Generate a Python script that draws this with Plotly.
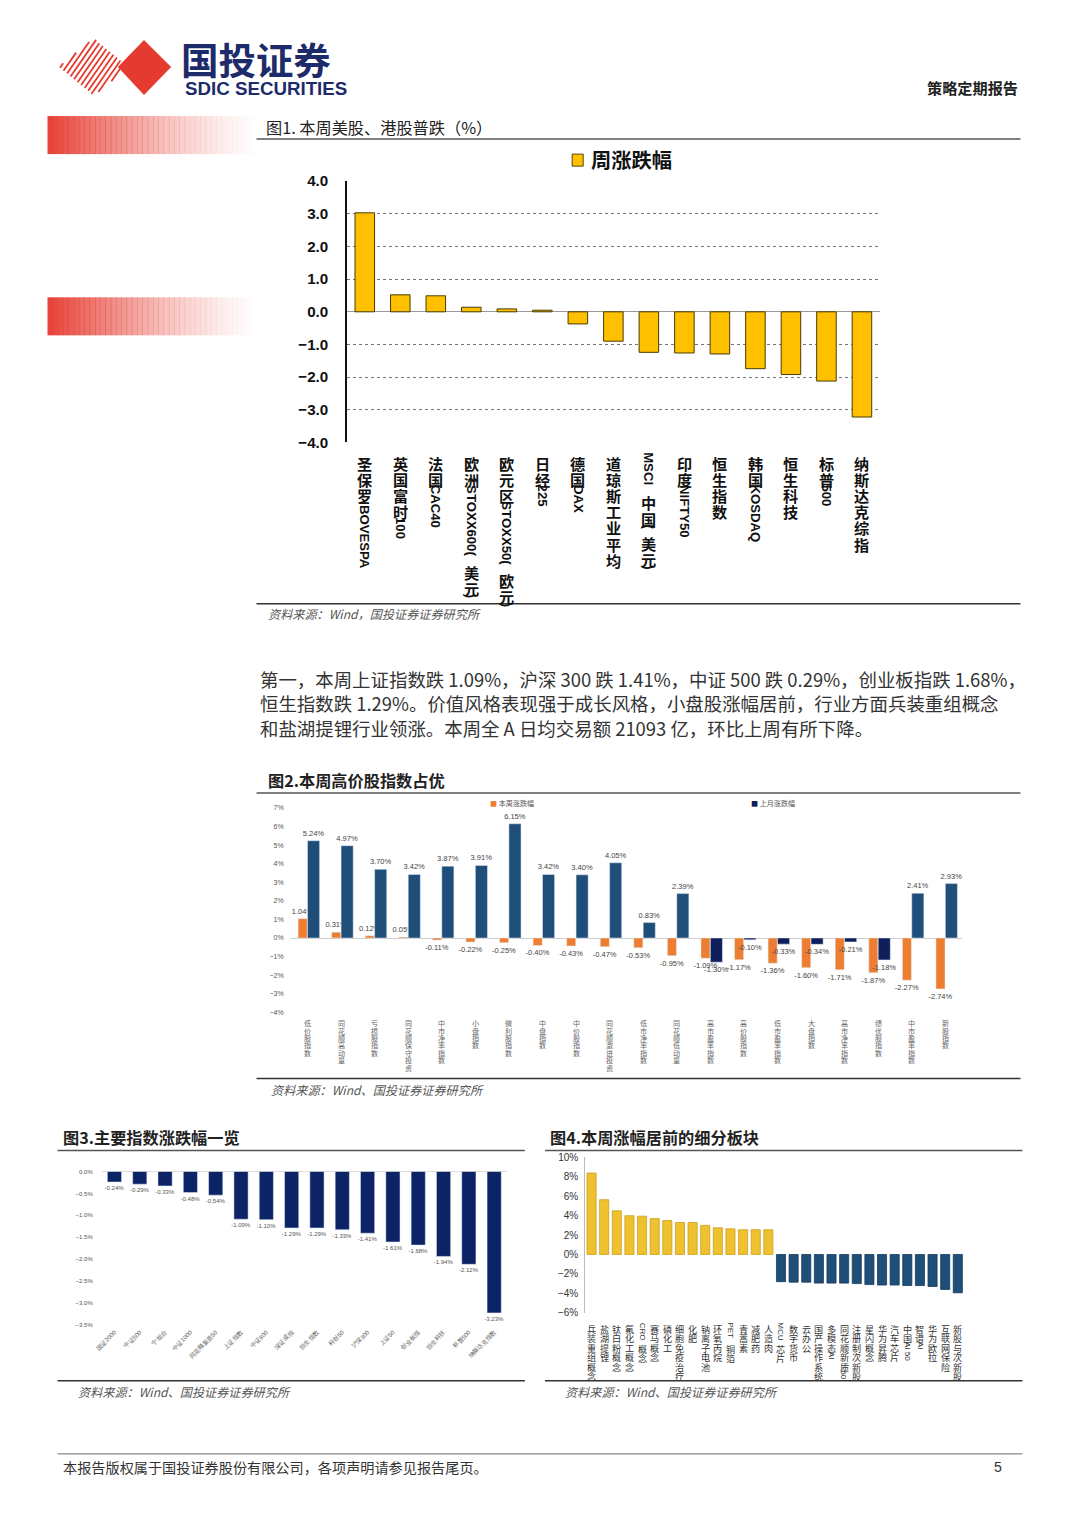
import plotly.graph_objects as go

W, H = 1080, 1527
# the photographed page comes out slightly shrunk and offset; compensate
SX, OX = 0.9885, 9.7
SY, OY = 0.9875, 10.1


def X(px):
    return ((px - OX) / SX) / W


def Y(py):
    return 1 - ((py - OY) / SY) / H


# ---------------- data ----------------
f1_cats = ["圣保罗IBOVESPA", "英国富时100", "法国CAC40", "欧洲STOXX600(美元)", "欧元区STOXX50(欧元)",
           "日经225", "德国DAX", "道琼斯工业平均", "MSCI中国(美元)", "印度NIFTY50", "恒生指数",
           "韩国KOSDAQ", "恒生科技", "标普500", "纳斯达克综指"]
f1_vals = [3.03, 0.52, 0.49, 0.14, 0.09, 0.05, -0.37, -0.90, -1.24, -1.26, -1.29, -1.74, -1.92, -2.12, -3.22]

f2_cats = ["低价股指数", "同花顺高动量", "亏损股指数", "同花顺保守投资", "中市净率指数", "小盘指数",
           "微利股指数", "中盘指数", "中价股指数", "同花顺激进投资", "低市净率指数", "同花顺低动量",
           "高市盈率指数", "高价股指数", "低市盈率指数", "大盘指数", "高市净率指数", "绩优股指数",
           "中市盈率指数", "新股指数"]
f2_week = [1.04, 0.31, 0.12, 0.05, -0.11, -0.22, -0.25, -0.40, -0.43, -0.47, -0.53, -0.95,
           -1.09, -1.17, -1.36, -1.60, -1.71, -1.87, -2.27, -2.74]
f2_month = [5.24, 4.97, 3.70, 3.42, 3.87, 3.91, 6.15, 3.42, 3.40, 4.05, 0.83, 2.39,
            -1.30, -0.10, -0.33, -0.34, -0.21, -1.18, 2.41, 2.93]
f2_names = ["本周涨跌幅", "上月涨跌幅"]

f3_cats = ["国证2000", "中证500", "宁组合", "中证1000", "同花顺新质50", "上证指数", "中证800", "深证成指",
           "恒生指数", "科创50", "沪深300", "上证50", "创业板指", "恒生科技", "标普500", "纳斯达克指数"]
f3_vals = [-0.24, -0.29, -0.33, -0.48, -0.54, -1.09, -1.10, -1.29, -1.29, -1.33, -1.41, -1.61,
           -1.68, -1.94, -2.12, -3.23]

f4_up_cats = ["兵装重组概念", "盐湖提锂", "钛白粉概念", "氟化工概念", "CRO概念", "赛马概念", "磷化工",
              "细胞免疫治疗", "化肥", "钠离子电池", "环氧丙烷", "PET铜箔", "青蒿素", "减肥药", "人造肉"]
f4_up_vals = [8.4, 5.65, 4.5, 4.0, 3.95, 3.7, 3.5, 3.3, 3.3, 3.0, 2.75, 2.65, 2.55, 2.55, 2.55]
f4_dn_cats = ["MCU芯片", "数字货币", "云办公", "国产操作系统", "多模态AI", "同花顺新质50", "注册制次新股",
              "星闪概念", "华为昇腾", "汽车芯片", "中国AI 50", "智谱AI", "华为欧拉", "互联网保险", "新股与次新股"]
f4_dn_vals = [-2.8, -2.85, -2.85, -2.95, -2.95, -2.95, -3.0, -3.1, -3.15, -3.15, -3.2, -3.2, -3.3, -3.6, -3.95]

para_lines = [
    "第一，本周上证指数跌 1.09%，沪深 300 跌 1.41%，中证 500 跌 0.29%，创业板指跌 1.68%，",
    "恒生指数跌 1.29%。价值风格表现强于成长风格，小盘股涨幅居前，行业方面兵装重组概念",
    "和盐湖提锂行业领涨。本周全 A 日均交易额 21093 亿，环比上周有所下降。",
]

# ---------------- styles ----------------
CJK = "Noto Sans CJK SC"
RED = "#E53A2F"
NAVY = "#1D2B6B"
YEL = "#FFC000"
ORANGE = "#ED7D31"
BLUE = "#1F4E79"
DBLUE = "#0E1F5B"
GOLD = "#F0C12E"
K = 1 / SY  # pixel-size compensation

fig = go.Figure()
shapes = []
anns = []


def line(x0, y0, x1, y1, color="#444", width=1.5):
    shapes.append(dict(type="line", xref="paper", yref="paper", x0=X(x0), y0=Y(y0), x1=X(x1), y1=Y(y1),
                       line=dict(color=color, width=width)))


def text(x, y, s, size, color="#222", family=CJK, anchor="left", weight="normal", style="normal"):
    anns.append(dict(xref="paper", yref="paper", x=X(x), y=Y(y), text=s, showarrow=False,
                     xanchor=anchor, yanchor="middle",
                     font=dict(family=family, size=size * K, color=color, weight=weight, style=style)))


def is_cjk(ch):
    return ord(ch) > 0x2E80


def lat_w(run, size):
    w = 0
    for ch in run:
        if ch.isupper():
            w += 0.70
        elif ch.isdigit():
            w += 0.58
        elif ch in "()":
            w += 0.36
        elif ch == " ":
            w += 0.30
        else:
            w += 0.58
    return w * size


def vlabels(xref, cats, top_py, cjk_size, step, lat_size, color, weight):
    for cat in cats:
        runs = []
        for ch in cat:
            k = is_cjk(ch)
            if runs and runs[-1][0] == k and not k:
                runs[-1][1] += ch
            else:
                runs.append([k, ch])
        off = 0
        for k, run in runs:
            if k:
                anns.append(dict(xref=xref, yref="paper", x=cat, y=Y(top_py), yshift=-off * K, text=run,
                                 showarrow=False, xanchor="center", yanchor="top", borderpad=0,
                                 font=dict(family=CJK, size=cjk_size * K, color=color, weight=weight)))
                off += step
            else:
                w = lat_w(run, lat_size)
                anns.append(dict(xref=xref, yref="paper", x=cat, y=Y(top_py), yshift=-(off + 1) * K,
                                 text=run, showarrow=False, xanchor="center", yanchor="top",
                                 textangle=90, borderpad=0,
                                 font=dict(family="Liberation Sans", size=lat_size * K, color=color,
                                           weight=weight)))
                off += w + 3


# ---------------- header ----------------
cx, cy, a, b = 96, 68, 35, 29
dx, dy = 0.57, -0.82
x0 = 63
while x0 <= 130:
    ins = []
    t = -60.0
    while t <= 60:
        px, py = x0 + t * dx, cy + t * dy
        if abs(px - cx) / a + abs(py - cy) / b <= 1:
            ins.append((px, py))
        t += 0.5
    if ins:
        line(ins[0][0], ins[0][1], ins[-1][0], ins[-1][1], color=RED, width=1.8)
    x0 += 5.5
shapes.append(dict(type="path", xref="paper", yref="paper",
                   path=f"M {X(120)},{Y(68)} L {X(146)},{Y(41)} L {X(173)},{Y(68)} L {X(146)},{Y(96)} Z",
                   fillcolor=RED, line=dict(width=0)))
text(181, 60, "国投证券", 37, NAVY, weight="bold")
text(185, 89, "SDIC SECURITIES", 18.5, NAVY, family="Liberation Sans", weight="bold")
text(1018, 88, "策略定期报告", 15, "#222", anchor="right", weight="bold")

for top in (117, 298):
    n = 40
    for i in range(n):
        xa = 50 + i * (210 / n)
        xb = xa + 210 / n + 0.5
        op = max(0.0, 1 - i / n) ** 1.4
        shapes.append(dict(type="rect", xref="paper", yref="paper", x0=X(xa), x1=X(xb),
                           y0=Y(top + 38), y1=Y(top), fillcolor=RED, opacity=op * 0.95,
                           line=dict(width=0), layer="below"))

# ---------------- figure 1 ----------------
text(265, 128, "图1. 本周美股、港股普跌（%）", 16, "#222")
line(258, 140, 1018, 140, "#555", 1.5)
line(258, 604, 1018, 604, "#333", 1.5)
text(267, 614, "资料来源：Wind，国投证券证券研究所", 12, "#555", style="italic")
shapes.append(dict(type="rect", xref="paper", yref="paper", x0=X(572), x1=X(583), y0=Y(167), y1=Y(155),
                   fillcolor=YEL, line=dict(color="#5a4a00", width=1)))
text(589, 160, "周涨跌幅", 20, "#111", weight="bold")

fig.add_trace(go.Bar(x=f1_cats, y=f1_vals, xaxis="x", yaxis="y", width=0.55,
                     marker=dict(color=YEL, line=dict(color="#4a3c00", width=1)), showlegend=False))
vlabels("x", f1_cats, 451, 15, 16, 13, "#111", "bold")

# ---------------- paragraph ----------------
for i, s in enumerate(para_lines):
    text(259, 679 + i * 24.5, s, 18.2, "#333")

# ---------------- figure 2 ----------------
text(267, 780, "图2.本周高价股指数占优", 16, "#222", weight="bold")
line(258, 793, 1018, 793, "#555", 1.5)
line(258, 1078, 1018, 1078, "#333", 1.5)
text(270, 1089, "资料来源：Wind、国投证券证券研究所", 12, "#555", style="italic")
text(488, 803, f'<span style="color:{ORANGE}">■</span> ' + f2_names[0], 7, "#555")
text(748, 803, f'<span style="color:{DBLUE}">■</span> ' + f2_names[1], 7, "#555")

lab_font = dict(size=7.5, color="#444", family="Liberation Sans")
fig.add_trace(go.Bar(x=f2_cats, y=f2_week, xaxis="x2", yaxis="y2", width=0.27, offset=-0.28,
                     marker=dict(color=ORANGE), name=f2_names[0], showlegend=False,
                     text=[f"{v:.2f}%" for v in f2_week], textposition="outside",
                     constraintext="none", textfont=lab_font, cliponaxis=False))
fig.add_trace(go.Bar(x=f2_cats, y=f2_month, xaxis="x2", yaxis="y2", width=0.36, offset=0.0,
                     marker=dict(color=[BLUE if v >= 0 else DBLUE for v in f2_month]),
                     name=f2_names[1], showlegend=False,
                     text=[f"{v:.2f}%" for v in f2_month], textposition="outside",
                     constraintext="none", textfont=lab_font, cliponaxis=False))
vlabels("x2", f2_cats, 1017, 7, 7.3, 6.5, "#666", "normal")

# ---------------- figure 3 ----------------
text(63, 1137, "图3.主要指数涨跌幅一览", 16, "#222", weight="bold")
line(60, 1150, 525, 1150, "#555", 1.5)
line(60, 1380, 525, 1380, "#333", 1.5)
text(78, 1391, "资料来源：Wind、国投证券证券研究所", 12, "#555", style="italic")
fig.add_trace(go.Bar(x=f3_cats, y=f3_vals, xaxis="x3", yaxis="y3", width=0.56,
                     marker=dict(color="#0C2466"), showlegend=False,
                     text=[f"{v:.2f}%" for v in f3_vals], textposition="outside", constraintext="none",
                     textfont=dict(size=6, color="#555", family="Liberation Sans"), cliponaxis=False))

# ---------------- figure 4 ----------------
text(548, 1137, "图4.本周涨幅居前的细分板块", 16, "#222", weight="bold")
line(545, 1150, 1020, 1150, "#555", 1.5)
line(545, 1380, 1020, 1380, "#333", 1.5)
text(563, 1391, "资料来源：Wind、国投证券证券研究所", 12, "#555", style="italic")
fig.add_trace(go.Bar(x=f4_up_cats, y=f4_up_vals, xaxis="x4", yaxis="y4", width=0.72,
                     marker=dict(color=GOLD, line=dict(color="#C9A020", width=0.8)), showlegend=False))
fig.add_trace(go.Bar(x=f4_dn_cats, y=f4_dn_vals, xaxis="x4", yaxis="y4", width=0.72,
                     marker=dict(color=BLUE, line=dict(color="#163a5c", width=0.8)), showlegend=False))
vlabels("x4", f4_up_cats + f4_dn_cats, 1320, 9, 9.4, 8, "#333", "normal")

# ---------------- footer ----------------
line(60, 1453, 1020, 1453, "#888", 1.2)
text(63, 1466, "本报告版权属于国投证券股份有限公司，各项声明请参见报告尾页。", 14, "#333")
text(1002, 1466, "5", 14, "#333", family="Liberation Sans", anchor="right")

# ---------------- layout ----------------
small = dict(family="Liberation Sans", color="#555")
fig.update_layout(
    width=W, height=H, margin=dict(l=0, r=0, t=0, b=0),
    paper_bgcolor="white", plot_bgcolor="rgba(0,0,0,0)",
    barmode="group", showlegend=False,
    shapes=shapes, annotations=anns,
    xaxis=dict(domain=[X(348), X(878)], anchor="y", type="category", range=[-0.5, 14.5],
               showticklabels=False, showgrid=False, zeroline=False),
    yaxis=dict(domain=[Y(443), Y(182)], anchor="x", range=[-4, 4], dtick=1, tickformat=".1f",
               showgrid=True, gridcolor="#777", griddash="dot", gridwidth=1,
               zeroline=True, zerolinecolor="#999", zerolinewidth=1,
               showline=True, linecolor="#111", linewidth=1.5, ticks="",
               tickfont=dict(family="Liberation Sans", size=15 * K, color="#111", weight="bold"),
               ticklabelstandoff=14),
    xaxis2=dict(domain=[X(292), X(960)], anchor="y2", type="category", range=[-0.5, 19.5],
                showticklabels=False, showgrid=False, zeroline=False),
    yaxis2=dict(domain=[Y(1012), Y(808)], anchor="x2", range=[-4, 7], dtick=1, ticksuffix="%",
                showgrid=False, zeroline=True, zerolinecolor="#ccc", zerolinewidth=1,
                tickfont=dict(size=7, **small), ticklabelstandoff=6),
    xaxis3=dict(domain=[X(104), X(507)], anchor="y3", type="category", range=[-0.5, 15.5],
                tickangle=-45, tickfont=dict(size=6, **small), showgrid=False, zeroline=False,
                ticklabelstandoff=2),
    yaxis3=dict(domain=[Y(1324), Y(1171)], anchor="x3", range=[-3.5, 0], dtick=0.5,
                tickformat=".1f", ticksuffix="%", showgrid=False, zeroline=True,
                zerolinecolor="#ddd", zerolinewidth=1, tickfont=dict(size=6, **small),
                ticklabelstandoff=8),
    xaxis4=dict(domain=[X(585), X(962)], anchor="y4", type="category", range=[-0.5, 29.5],
                showticklabels=False, showgrid=False, zeroline=False),
    yaxis4=dict(domain=[Y(1312), Y(1157)], anchor="x4", range=[-6, 10], dtick=2, ticksuffix="%",
                showgrid=False, zeroline=False, showline=True, linecolor="#bbb", linewidth=1,
                tickfont=dict(size=10, family="Liberation Sans", color="#333"), ticklabelstandoff=4),
)

fig.write_html("out.html", config={"displayModeBar": False},
               post_script="document.body.style.margin='0';document.body.style.overflow='hidden';")
